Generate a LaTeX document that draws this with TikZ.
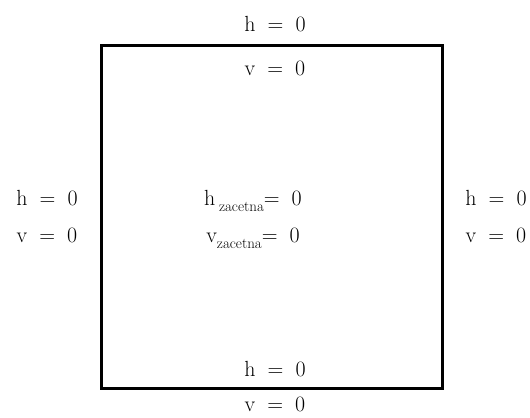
\documentclass[tikz,border=0pt]{standalone}
\usetikzlibrary{positioning}
\tikzset{
  lbl/.style={anchor=base, inner sep=0pt, font=\fontsize{22}{26}\selectfont},
  wall/.style={draw, line width=3bp, minimum width=341bp, minimum height=343bp, inner sep=0pt}
}
\newcommand{\eq}[1]{#1\hspace{0.55em}=\hspace{0.55em}0}
\newcommand{\zac}{{\fontsize{15}{17}\selectfont zacetna}}
\begin{document}
\begin{tikzpicture}[x=1bp,y=-1bp]
  \useasboundingbox (0,0) rectangle (530,417);
  \node[wall] (box) at (271.5,216.5) {};
  % top and bottom
  \node[lbl] (htop) at (275,31) {\eq{h}};
  \node[lbl] (vtop) at (275,75) {\eq{v}};
  \node[lbl] (hbot) at (275,376) {\eq{h}};
  \node[lbl] (vbot) at (275,411) {\eq{v}};
  % left and right
  \node[lbl] (hleft) at (47,205) {\eq{h}};
  \node[lbl] (vleft) at (47,242) {\eq{v}};
  \node[lbl] (hright) at (496,205) {\eq{h}};
  \node[lbl] (vright) at (496,242) {\eq{v}};
  % initial values
  \node[lbl] (hzac) at (253,205) {h\,\raisebox{-0.3em}{\zac}=\hspace{0.55em}0};
  \node[lbl] (vzac) at (253,242) {v\raisebox{-0.3em}{\zac}=\hspace{0.55em}0};
\end{tikzpicture}
\end{document}
